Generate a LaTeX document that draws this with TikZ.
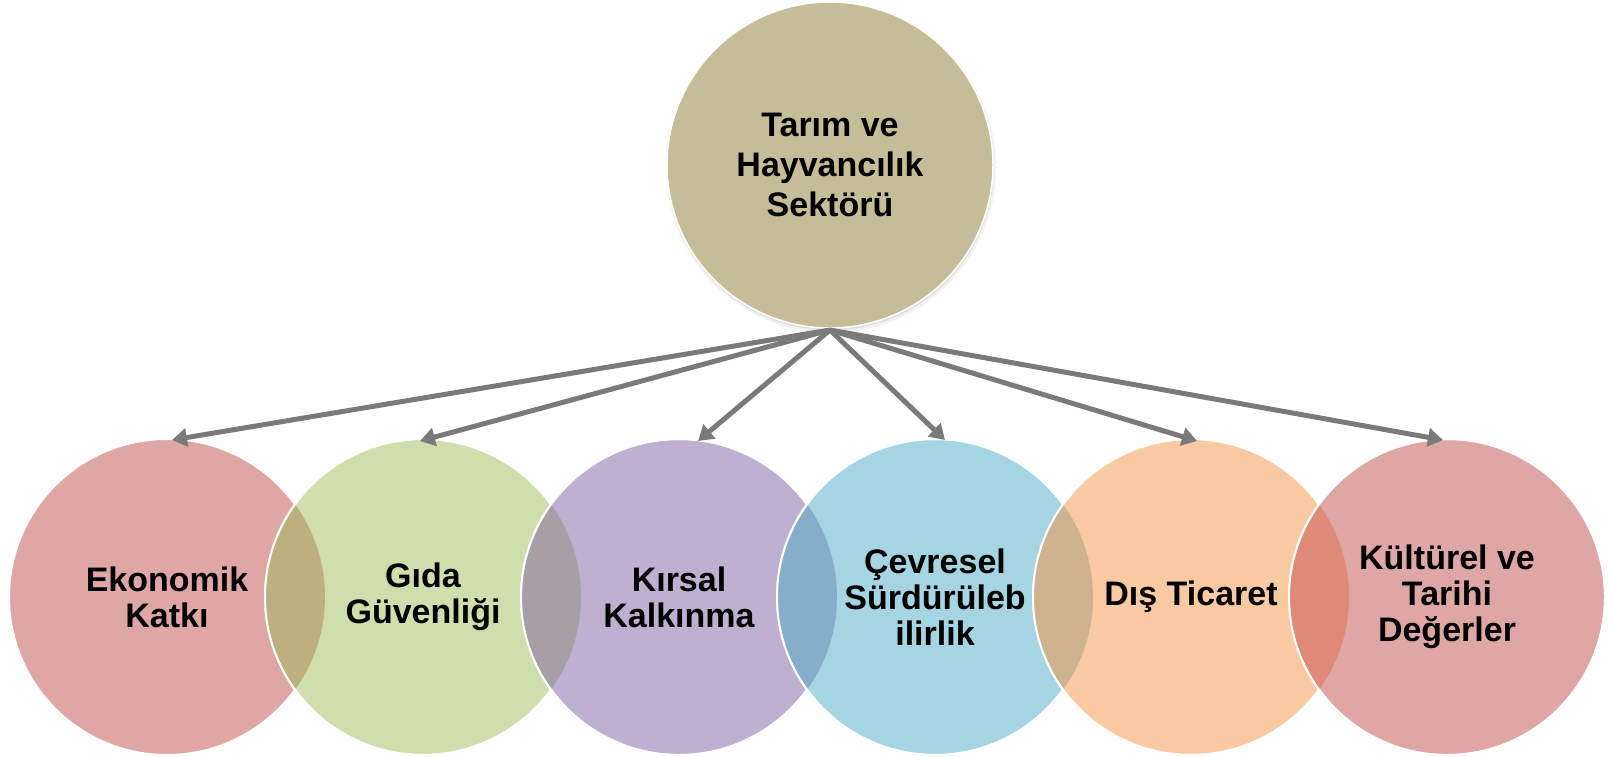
\documentclass[tikz,border=0pt]{standalone}
\usepackage{fontspec}
\setmainfont{Liberation Sans}
\usetikzlibrary{arrows.meta,calc}
\definecolor{topc}{HTML}{C4BD97}
\definecolor{cpink}{HTML}{DFA6A6}
\definecolor{cgreen}{HTML}{CFDEAC}
\definecolor{cpurple}{HTML}{BEB0D1}
\definecolor{cblue}{HTML}{A5D5E2}
\definecolor{cpeach}{HTML}{F9CAA1}
\definecolor{lensa}{HTML}{BDB07E}
\definecolor{lensb}{HTML}{A6A0A6}
\definecolor{lensc}{HTML}{86ADC9}
\definecolor{lensd}{HTML}{CDB390}
\definecolor{lense}{HTML}{DE8A76}
\definecolor{arrowc}{HTML}{7A7A7A}
\begin{document}
\begin{tikzpicture}[x=1pt,y=-1pt,
  bubble/.style={circle, minimum size=316pt, inner sep=0pt, outer sep=0pt, draw=white, line width=2pt},
  label/.style={text=black, align=center, inner sep=0pt, font=\bfseries\fontsize{34}{36}\selectfont},
  link/.style={draw=arrowc, line width=5pt, line join=miter, -{Triangle[length=15pt,width=18pt]}},
]
\useasboundingbox (0,0) rectangle (1608,756);
\fill[white] (0,0) rectangle (1608,756);

% top circle with soft shadow
\fill[black, opacity=0.05] (831,168) circle (165pt);
\fill[black, opacity=0.07] (830.5,167) circle (163.5pt);
\node[bubble, fill=topc, minimum size=326pt, line width=1.5pt] (top) at (830,165) {};

% bottom circles with overlap lenses
\node[bubble, fill=cpink] (c1) at (167,597) {};
\node[bubble, fill=cgreen] (c2) at (423,597) {};
\begin{scope}\clip (c1.center) circle (158pt); \fill[lensa] (c2.center) circle (158pt);\end{scope}
\draw[white, line width=2pt] (c2.center) circle (158pt);

\node[bubble, fill=cpurple] (c3) at (679,597) {};
\begin{scope}\clip (c2.center) circle (158pt); \fill[lensb] (c3.center) circle (158pt);\end{scope}
\draw[white, line width=2pt] (c3.center) circle (158pt);

\node[bubble, fill=cblue] (c4) at (935,597) {};
\begin{scope}\clip (c3.center) circle (158pt); \fill[lensc] (c4.center) circle (158pt);\end{scope}
\draw[white, line width=2pt] (c4.center) circle (158pt);

\node[bubble, fill=cpeach] (c5) at (1191,597) {};
\begin{scope}\clip (c4.center) circle (158pt); \fill[lensd] (c5.center) circle (158pt);\end{scope}
\draw[white, line width=2pt] (c5.center) circle (158pt);

\node[bubble, fill=cpink] (c6) at (1447,597) {};
\begin{scope}\clip (c5.center) circle (158pt); \fill[lense] (c6.center) circle (158pt);\end{scope}
\draw[white, line width=2pt] (c6.center) circle (158pt);

% labels
\node[label, font=\bfseries\fontsize{34}{40}\selectfont] (t0) at (top.center) {Tarım ve\\Hayvancılık\\Sektörü};
\node[label] (t1) at (c1.center) {Ekonomik\\Katkı};
\node[label] (t2) at (c2.center) {Gıda\\Güvenliği};
\node[label] (t3) at (c3.center) {Kırsal\\Kalkınma};
\node[label] (t4) at (c4.center) {Çevresel\\Sürdürüleb\\ilirlik};
\node[label] (t5) at (c5.center) {Dış Ticaret};
\node[label] (t6) at (c6.center) {Kültürel ve\\Tarihi\\Değerler};

% connectors
\coordinate (e1) at ([xshift=5pt,yshift=-1pt]c1.north);
\coordinate (e2) at ([xshift=-3pt,yshift=-2pt]c2.north);
\coordinate (e3) at ([xshift=19pt,yshift=-2pt]c3.north);
\coordinate (e4) at ([xshift=10pt,yshift=-1pt]c4.north);
\coordinate (e5) at ([xshift=6pt,yshift=-2pt]c5.north);
\coordinate (e6) at ([xshift=-4pt,yshift=-1pt]c6.north);
\coordinate (src) at ([yshift=-2pt]top.south);
\foreach \e in {e1,e2,e3,e4,e5,e6}{
  \draw[link] (src) -- (\e);
}
\end{tikzpicture}
\end{document}
